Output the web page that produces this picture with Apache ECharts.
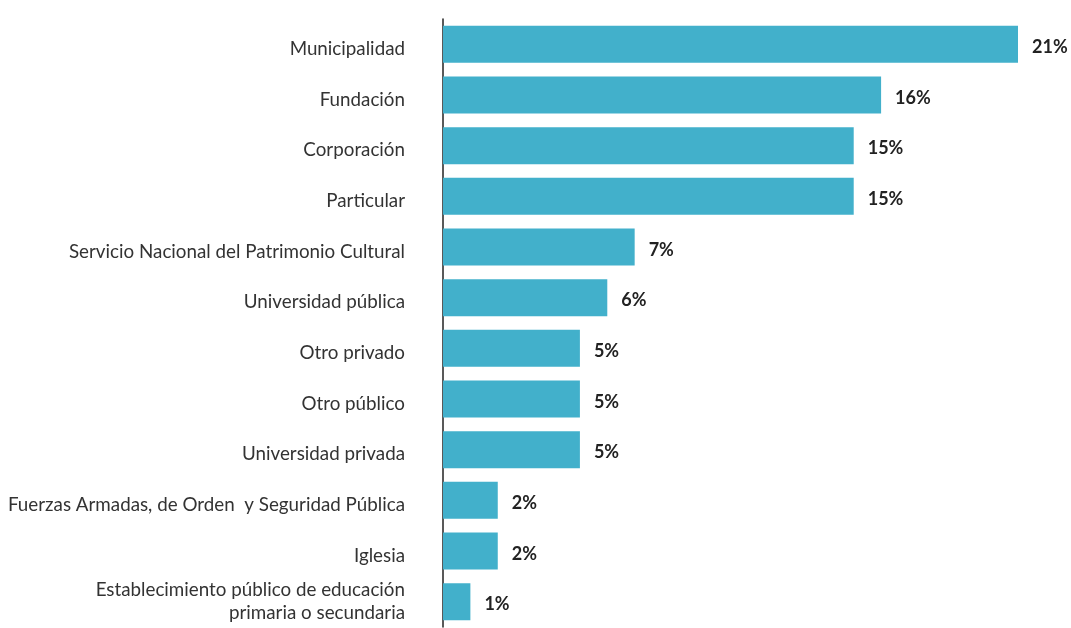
<!DOCTYPE html>
<html><head><meta charset="utf-8">
<script src="https://cdn.jsdelivr.net/npm/echarts@6/dist/echarts.min.js"></script>
<style>html,body{margin:0;padding:0;background:#fff}#c{width:1071px;height:628px}</style>
</head><body><div id="c"></div>
<script>
const categories = [
  "Municipalidad",
  "Fundación",
  "Corporación",
  "Particular",
  "Servicio Nacional del Patrimonio Cultural",
  "Universidad pública",
  "Otro privado",
  "Otro público",
  "Universidad privada",
  "Fuerzas Armadas, de Orden  y Seguridad Pública",
  "Iglesia",
  "Establecimiento público de educación\nprimaria o secundaria"
];
const values = [21, 16, 15, 15, 7, 6, 5, 5, 5, 2, 2, 1];

const txt = { fontFamily: 'Lato', fontSize: 18.8, color: '#333' };
const chart = echarts.init(document.getElementById('c'));
chart.setOption({
  animation: false,
  grid: { left: 443, top: 19, width: 575, height: 608, containLabel: false, outerBoundsMode: 'none' },
  xAxis: { type: 'value', min: 0, max: 21, show: false },
  yAxis: {
    type: 'category', data: categories, inverse: true,
    axisLine: { show: true, lineStyle: { color: '#222', width: 1.5 } },
    axisTick: { show: false },
    axisLabel: {
      fontFamily: 'Lato', fontSize: 18.8, color: '#333', margin: 38, align: 'right',
      formatter: function (v) {
        if (v.indexOf('\n') >= 0) {
          return v.split('\n').map(function (l) { return '{m|' + l + '}'; }).join('\n');
        }
        return '{s| }{t|' + v + '}';
      },
      rich: {
        s: Object.assign({ width: 0, height: 28, lineHeight: 28 }, txt),
        t: Object.assign({ lineHeight: 22, verticalAlign: 'bottom' }, txt),
        m: Object.assign({ lineHeight: 23 }, txt)
      }
    }
  },
  series: [{
    type: 'bar', data: values, barWidth: 37,
    itemStyle: { color: '#42B0CB' },
    label: { show: true, position: 'right', distance: 14, offset: [0, 3], formatter: '{c}%',
      fontFamily: 'Lato', fontWeight: 'bold', fontSize: 18, color: '#222' }
  }]
});
</script></body></html>
